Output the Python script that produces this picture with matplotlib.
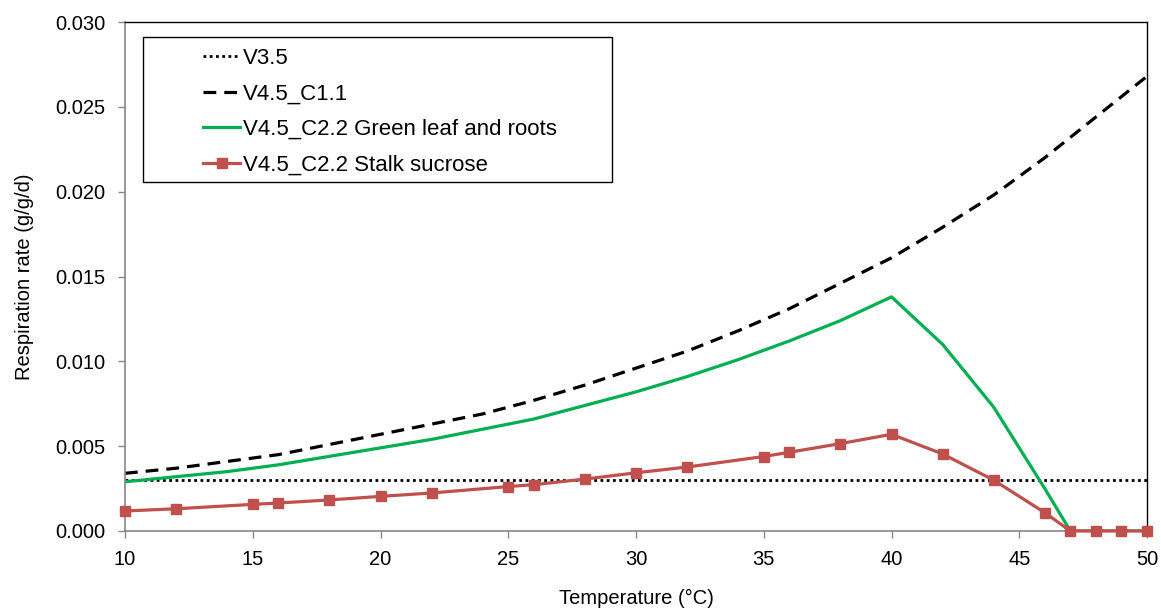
import matplotlib
matplotlib.use('Agg')
import matplotlib.pyplot as plt
from matplotlib.patches import Rectangle
from matplotlib.ticker import FormatStrFormatter

plt.rcParams['font.family'] = ['Liberation Sans', 'DejaVu Sans']

# V3.5 - constant rate
v35_temp = [10, 50]
v35_rate = [0.003, 0.003]

# V4.5_C1.1
c11_temp = [10, 12, 14, 16, 18, 20, 22, 24, 26, 28, 30, 32, 34, 36, 38, 40, 42, 44, 46, 48, 50]
c11_rate = [0.0034, 0.0037, 0.0041, 0.0045, 0.0051, 0.0057, 0.0063, 0.0069, 0.0077, 0.0086, 0.0096,
            0.0106, 0.0118, 0.0131, 0.0146, 0.0161, 0.0179, 0.0198, 0.0220, 0.0244, 0.0268]

# V4.5_C2.2 green leaf and roots
leaf_temp = [10, 12, 14, 16, 18, 20, 22, 24, 26, 28, 30, 32, 34, 36, 38, 40, 42, 44, 46, 47, 48, 50]
leaf_rate = [0.0029, 0.0032, 0.0035, 0.0039, 0.0044, 0.0049, 0.0054, 0.0060, 0.0066, 0.0074, 0.0082,
             0.0091, 0.0101, 0.0112, 0.0124, 0.0138, 0.0110, 0.0073, 0.0025, 0.0, 0.0, 0.0]

# V4.5_C2.2 stalk sucrose
stalk_temp = [10, 12, 15, 16, 18, 20, 22, 25, 26, 28, 30, 32, 35, 36, 38, 40, 42, 44, 46, 47, 48, 49, 50]
stalk_rate = [0.00118, 0.00131, 0.00157, 0.00165, 0.00183, 0.00204, 0.00224, 0.00262, 0.00273, 0.00306,
              0.00343, 0.00377, 0.00439, 0.00464, 0.00515, 0.0057, 0.00454, 0.0030, 0.00108, 0.0, 0.0, 0.0, 0.0]

fig = plt.figure(figsize=(11.61, 6.08), dpi=100)
ax = fig.add_axes([125 / 1161, 1 - 531 / 608, 1022 / 1161, 509 / 608])

ax.plot(v35_temp, v35_rate, color='black', lw=2.0, linestyle=(0, (1, 1.25)), label='V3.5')
ax.plot(c11_temp, c11_rate, color='black', lw=2.3, linestyle=(0, (4, 2.5)), label='V4.5_C1.1')
ax.plot(leaf_temp, leaf_rate, color='#00B050', lw=2.3, label='V4.5_C2.2 Green leaf and roots')
ax.plot(stalk_temp, stalk_rate, color='#C0504D', lw=2.3, marker='s', ms=7,
        label='V4.5_C2.2 Stalk sucrose', clip_on=False, zorder=5)

ax.set_xlim(10, 50)
ax.set_ylim(0, 0.030)
ax.set_xticks(range(10, 51, 5))
ax.set_yticks([0.0, 0.005, 0.010, 0.015, 0.020, 0.025, 0.030])
ax.yaxis.set_major_formatter(FormatStrFormatter('%.3f'))

for side in ['left', 'bottom']:
    ax.spines[side].set_color('#868686')
    ax.spines[side].set_linewidth(1.2)
for side in ['top', 'right']:
    ax.spines[side].set_color('black')
    ax.spines[side].set_linewidth(1.0)

ax.tick_params(axis='both', direction='out', length=5, width=1.0, color='#868686',
               labelsize=14.5, pad=9)

ax.set_xlabel('Temperature (°C)', fontsize=14.5, labelpad=14)
ax.set_ylabel('Respiration rate (g/g/d)', fontsize=14.5, labelpad=15)

# legend box
box = Rectangle((143 / 1161, 1 - 182 / 608), (612 - 143) / 1161, (182 - 37) / 608,
                transform=fig.transFigure, facecolor='white', edgecolor='black', lw=1.0, zorder=6)
ax.add_patch(box)
box.set_clip_on(False)

leg = ax.legend(loc='upper left', bbox_to_anchor=((203 - 125) / 1022, (531 - 48) / 509),
                frameon=False, fontsize=16, handlelength=1.67, handletextpad=0.14,
                labelspacing=0.65, borderpad=0, borderaxespad=0)
leg.set_zorder(7)

fig.savefig('out.png', dpi=100)
